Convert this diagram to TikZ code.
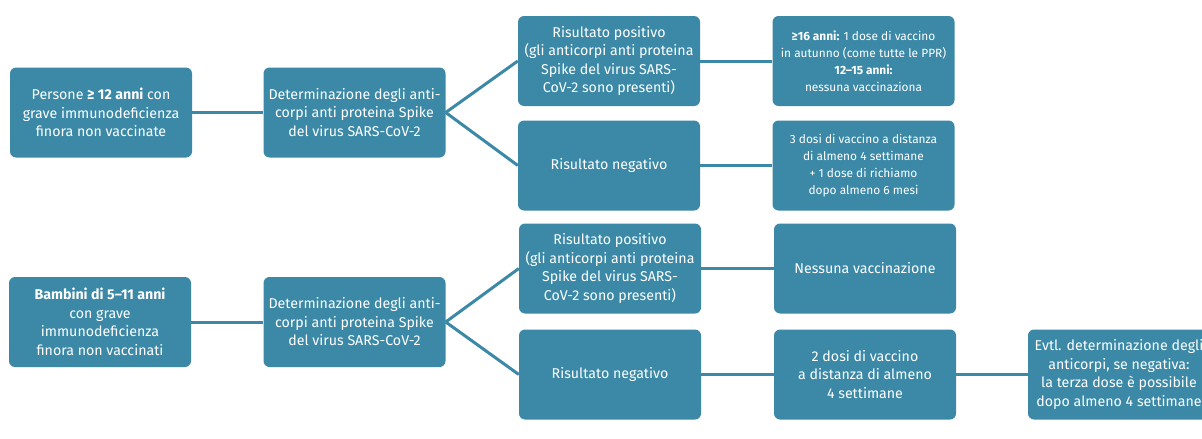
\documentclass[tikz,border=0pt]{standalone}
\usepackage{fontspec}
\setmainfont{Fira Sans}
\definecolor{boxblue}{RGB}{59,137,166}
\begin{document}
\begin{tikzpicture}[x=1pt,y=-1pt,
  box/.style={fill=boxblue,rounded corners=6pt,minimum width=182pt,minimum height=90pt,
    text=white,align=center,inner sep=0pt,font=\fontsize{14.2}{18.5}\selectfont},
  smallbox/.style={box,font=\fontsize{11.9}{17}\selectfont},
  link/.style={draw=boxblue,line width=3pt}]
\useasboundingbox (0,0) rectangle (1202,439);
\clip (0,0) rectangle (1202,439);
% top row
\node[box] (a1) at (101,112.5) {Persone \textbf{≥ 12 anni} con\\grave immunodeficienza\\finora non vaccinate};
\node[box] (b1) at (354.5,112.5) {Determinazione degli anti-\\corpi anti proteina Spike\\del virus SARS-CoV-2};
\node[box] (c1) at (609,61) {Risultato positivo\\(gli anticorpi anti proteina\\Spike del virus SARS-\\CoV-2 sono presenti)};
\node[box] (c2) at (609,165.5) {Risultato negativo};
\node[smallbox] (d1) at (863.5,61) {\textbf{≥16 anni:} 1 dose di vaccino\\in autunno (come tutte le PPR)\\\textbf{12–15 anni:}\\nessuna vaccinaziona};
\node[smallbox] (d2) at (863.5,165.5) {3 dosi di vaccino a distanza\\di almeno 4 settimane\\+ 1 dose di richiamo\\dopo almeno 6 mesi};
% bottom row
\node[box] (a2) at (100,322) {\textbf{Bambini di 5–11 anni}\\con grave\\immunodeficienza\\finora non vaccinati};
\node[box] (b2) at (354.5,322) {Determinazione degli anti-\\corpi anti proteina Spike\\del virus SARS-CoV-2};
\node[box] (c3) at (610,268.5) {Risultato positivo\\(gli anticorpi anti proteina\\Spike del virus SARS-\\CoV-2 sono presenti)};
\node[box] (c4) at (610,374.5) {Risultato negativo};
\node[box] (d3) at (865,268.5) {Nessuna vaccinazione};
\node[box] (d4) at (865,374.5) {2 dosi di vaccino\\a distanza di almeno\\4 settimane};
\node[box] (e) at (1119,374.5) {Evtl. determinazione degli\\anticorpi, se negativa:\\la terza dose è possibile\\dopo almeno 4 settimane};
% connectors
\draw[link] (a1.east) -- (b1.west);
\draw[link] (b1.east) -- (c1.west);
\draw[link] (b1.east) -- (c2.west);
\draw[link] (c1.east) -- (d1.west);
\draw[link] (c2.east) -- (d2.west);
\draw[link] (a2.east) -- (b2.west);
\draw[link] (b2.east) -- (c3.west);
\draw[link] (b2.east) -- (c4.west);
\draw[link] (c3.east) -- (d3.west);
\draw[link] (c4.east) -- (d4.west);
\draw[link] (d4.east) -- (e.west);
\end{tikzpicture}
\end{document}
